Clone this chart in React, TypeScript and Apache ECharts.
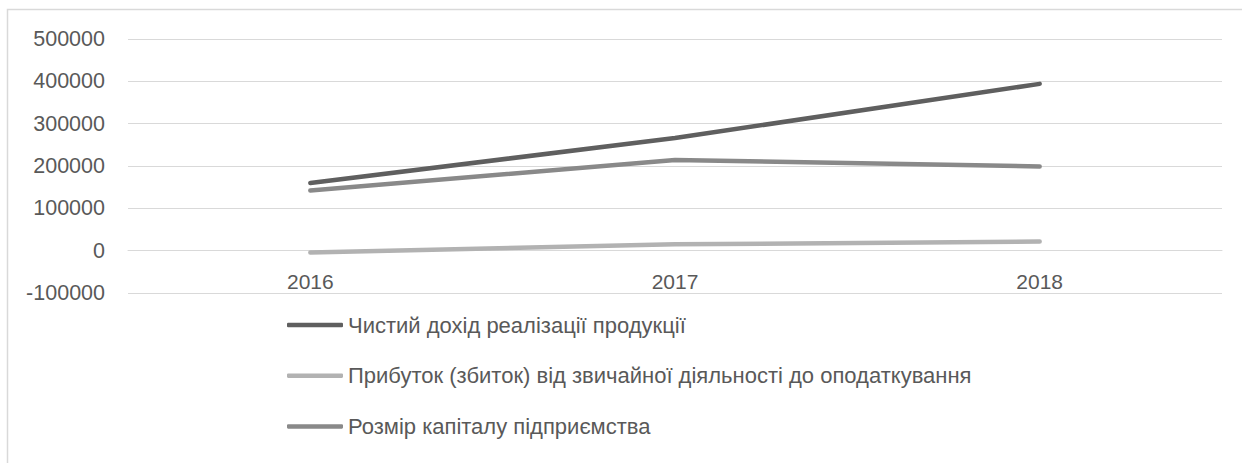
import React, { useEffect, useRef } from "react";
import * as echarts from "echarts";

const categories = ["2016", "2017", "2018"];
const seriesNames = [
  "Чистий дохід реалізації продукції",
  "Прибуток (збиток) від звичайної діяльності до оподаткування",
  "Розмір капіталу підприємства",
];
const netIncome = [160000, 266000, 394000];
const profit = [-4500, 15000, 21500];
const capital = [142000, 214000, 199000];
const yTicks = [-100000, 0, 100000, 200000, 300000, 400000, 500000];
const seriesColors = ["#5f5f5f", "#b2b2b2", "#898989"];

export default function App() {
  const ref = useRef<HTMLDivElement>(null);
  useEffect(() => {
    if (!ref.current) return;
    const chart = echarts.init(ref.current, undefined, { renderer: "svg" });
    const values = [netIncome, profit, capital];
    const gridTop = 39;
    const gridBottom = 170;
    const plotH = 463 - gridTop - gridBottom;
    const yMin = yTicks[0];
    const yMax = yTicks[yTicks.length - 1];
    const zeroOffset = (plotH * (0 - yMin)) / (yMax - yMin);
    chart.setOption({
      animation: false,
      backgroundColor: "#ffffff",
      grid: { left: 128, right: 20, top: gridTop, bottom: gridBottom, containLabel: false },
      graphic: [
        {
          type: "rect",
          shape: { x: 7.5, y: 9.5, width: 1250, height: 470 },
          style: { fill: "none", stroke: "#d9d9d9", lineWidth: 1.5 },
          silent: true,
        },
      ],
      legend: {
        orient: "vertical",
        left: 287,
        top: 314,
        padding: 0,
        icon: "roundRect",
        itemWidth: 56,
        itemHeight: 4.5,
        itemGap: 28.7,
        data: seriesNames,
        textStyle: {
          fontFamily: "Liberation Sans",
          fontSize: 22,
          lineHeight: 22,
          color: "#595959",
        },
      },
      xAxis: {
        type: "category",
        data: categories,
        boundaryGap: true,
        offset: -zeroOffset,
        axisLine: { show: true, onZero: false, lineStyle: { color: "#d9d9d9", width: 1 } },
        axisTick: { show: false },
        axisLabel: {
          margin: 20,
          fontFamily: "Liberation Sans",
          fontSize: 21,
          color: "#595959",
        },
        splitLine: { show: false },
      },
      yAxis: {
        type: "value",
        min: yMin,
        max: yMax,
        interval: 100000,
        axisLine: { show: false },
        axisTick: { show: false },
        axisLabel: {
          margin: 23,
          fontFamily: "Liberation Sans",
          fontSize: 21.5,
          color: "#595959",
          formatter: (v: number) => String(v),
        },
        splitLine: { show: true, lineStyle: { color: "#d9d9d9", width: 1 } },
      },
      series: seriesNames.map((name, i) => ({
        name,
        type: "line",
        data: values[i],
        symbol: "none",
        color: seriesColors[i],
        itemStyle: { color: seriesColors[i] },
        lineStyle: { width: 4.5, color: seriesColors[i], cap: "round", join: "round" },
      })),
    });
    return () => chart.dispose();
  }, []);
  return <div ref={ref} style={{ width: 1242, height: 463, position: "absolute", left: 0, top: 0 }} />;
}
